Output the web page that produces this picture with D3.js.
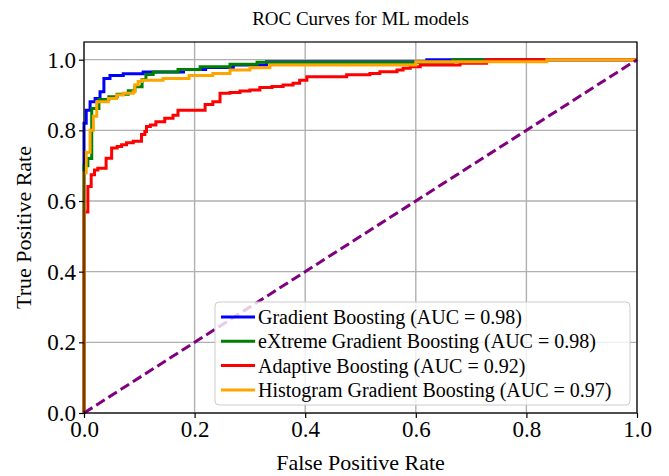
<!DOCTYPE html>
<html>
<head>
<meta charset="utf-8">
<script src="https://cdn.jsdelivr.net/npm/d3@7"></script>
<style>
  body { margin: 0; background: #fff; }
  svg { font-family: "Liberation Serif", "Times New Roman", serif; }
</style>
</head>
<body>
<script>
// ROC points [fpr, tpr]
var gbPoints = [[0,0],[0,0.82],[0.004,0.857],[0.011,0.881],[0.020,0.890],[0.029,0.909],[0.036,0.947],[0.047,0.955],[0.071,0.960],[0.107,0.965],[0.18,0.972],[0.22,0.978],[0.27,0.985],[0.33,0.994],[0.62,1.0],[1,1]];
var xgbPoints = [[0,0],[0,0.70],[0.007,0.72],[0.014,0.862],[0.027,0.887],[0.045,0.895],[0.06,0.902],[0.08,0.912],[0.092,0.923],[0.105,0.943],[0.112,0.958],[0.125,0.965],[0.17,0.972],[0.21,0.980],[0.264,0.987],[0.313,0.993],[0.667,1.0],[1,1]];
var adaPoints = [[0,0],[0,0.569],[0.007,0.641],[0.013,0.674],[0.019,0.688],[0.025,0.693],[0.04,0.721],[0.05,0.75],[0.06,0.754],[0.068,0.759],[0.077,0.765],[0.089,0.769],[0.104,0.788],[0.11,0.797],[0.113,0.811],[0.12,0.815],[0.13,0.824],[0.146,0.834],[0.161,0.843],[0.17,0.857],[0.219,0.873],[0.233,0.881],[0.246,0.905],[0.264,0.907],[0.282,0.911],[0.30,0.914],[0.318,0.921],[0.34,0.924],[0.36,0.928],[0.378,0.933],[0.39,0.942],[0.403,0.952],[0.475,0.957],[0.517,0.961],[0.535,0.966],[0.566,0.971],[0.577,0.976],[0.59,0.980],[0.608,0.985],[0.68,0.990],[0.728,1.0],[1,1]];
var hgbPoints = [[0,0],[0,0.68],[0.004,0.737],[0.011,0.80],[0.017,0.84],[0.023,0.881],[0.044,0.89],[0.059,0.90],[0.071,0.905],[0.089,0.909],[0.092,0.929],[0.098,0.938],[0.104,0.942],[0.143,0.947],[0.19,0.955],[0.233,0.961],[0.264,0.971],[0.30,0.977],[0.336,0.985],[0.6,0.994],[0.837,1.0],[1,1]];

var modelNames = ["Gradient Boosting (AUC = 0.98)", "eXtreme Gradient Boosting (AUC = 0.98)", "Adaptive Boosting (AUC = 0.92)", "Histogram Gradient Boosting (AUC = 0.97)"];
var modelColors = ["#0000ff", "#008000", "#ff0000", "#ffa500"];
var modelData = [gbPoints, xgbPoints, adaPoints, hgbPoints];

var diagonal = [[0,0],[1,1]];
var tickValues = [0, 0.2, 0.4, 0.6, 0.8, 1.0];

var svgWidth = 669;
var svgHeight = 476;
var margin = {top: 42, right: 32, bottom: 63, left: 84};
var width = svgWidth - margin.left - margin.right;
var height = svgHeight - margin.top - margin.bottom;

var svg = d3.select("body").append("svg")
  .attr("width", svgWidth)
  .attr("height", svgHeight);

var g = svg.append("g")
  .attr("transform", "translate(" + margin.left + "," + margin.top + ")");

var xScale = d3.scaleLinear().domain([0, 1]).range([0, width]);
var yScale = d3.scaleLinear().domain([0, 1.05]).range([height, 0]);

// grid
g.append("g").selectAll("line").data(tickValues).enter().append("line")
  .attr("x1", function(d) { return xScale(d); })
  .attr("x2", function(d) { return xScale(d); })
  .attr("y1", 0).attr("y2", height)
  .attr("stroke", "#b0b0b0").attr("stroke-width", 1.4);
g.append("g").selectAll("line").data(tickValues).enter().append("line")
  .attr("y1", function(d) { return yScale(d); })
  .attr("y2", function(d) { return yScale(d); })
  .attr("x1", 0).attr("x2", width)
  .attr("stroke", "#b0b0b0").attr("stroke-width", 1.4);

var line = d3.line()
  .x(function(d) { return xScale(d[0]); })
  .y(function(d) { return yScale(d[1]); });

var stepLine = d3.line()
  .x(function(d) { return xScale(d[0]); })
  .y(function(d) { return yScale(d[1]); })
  .curve(d3.curveStepAfter);

modelData.forEach(function(pts, i) {
  g.append("path")
    .datum(pts)
    .attr("d", stepLine)
    .attr("fill", "none")
    .attr("stroke", modelColors[i])
    .attr("stroke-width", 3)
    .attr("stroke-linejoin", "miter");
});

g.append("path")
  .datum(diagonal)
  .attr("d", line)
  .attr("fill", "none")
  .attr("stroke", "#800080")
  .attr("stroke-width", 3)
  .attr("stroke-dasharray", "10,4.5");

// axes
var xAxis = d3.axisBottom(xScale).tickValues(tickValues).tickFormat(d3.format(".1f")).tickSize(5).tickPadding(3);
var yAxis = d3.axisLeft(yScale).tickValues(tickValues).tickFormat(d3.format(".1f")).tickSize(5).tickPadding(3);

var gX = g.append("g")
  .attr("transform", "translate(0," + height + ")")
  .call(xAxis);
var gY = g.append("g").call(yAxis);

[gX, gY].forEach(function(ax) {
  ax.select(".domain").remove();
  ax.selectAll(".tick line").attr("stroke", "#000").attr("stroke-width", 1.2);
  ax.selectAll(".tick text")
    .attr("fill", "#000")
    .style("font-family", "'Liberation Serif', 'Times New Roman', serif")
    .style("font-size", "23px");
});

// frame
g.append("rect")
  .attr("width", width).attr("height", height)
  .attr("fill", "none").attr("stroke", "#000").attr("stroke-width", 1.2);

// legend
var legend = g.append("g").attr("transform", "translate(" + (215 - margin.left) + "," + (302 - margin.top) + ")");
legend.append("rect")
  .attr("width", 415).attr("height", 103)
  .attr("rx", 4).attr("ry", 4)
  .attr("fill", "#fff").attr("fill-opacity", 0.8)
  .attr("stroke", "#cccccc").attr("stroke-width", 1);

var rows = legend.selectAll("g.row").data(modelNames).enter().append("g")
  .attr("class", "row")
  .attr("transform", function(d, i) { return "translate(0," + (15 + i * 24.3) + ")"; });
rows.append("line")
  .attr("x1", 6).attr("x2", 40)
  .attr("stroke", function(d, i) { return modelColors[i]; })
  .attr("stroke-width", 3);
rows.append("text")
  .attr("x", 43).attr("dy", "0.35em")
  .style("font-size", "20px")
  .attr("fill", "#000")
  .text(function(d) { return d; });

// titles
svg.append("text")
  .attr("x", margin.left + width / 2).attr("y", 25)
  .attr("text-anchor", "middle")
  .style("font-size", "19px")
  .text("ROC Curves for ML models");

svg.append("text")
  .attr("x", margin.left + width / 2).attr("y", 470)
  .attr("text-anchor", "middle")
  .style("font-size", "22px")
  .text("False Positive Rate");

svg.append("text")
  .attr("transform", "translate(31," + (margin.top + height / 2) + ") rotate(-90)")
  .attr("text-anchor", "middle")
  .style("font-size", "22px")
  .text("True Positive Rate");
</script>
</body>
</html>
